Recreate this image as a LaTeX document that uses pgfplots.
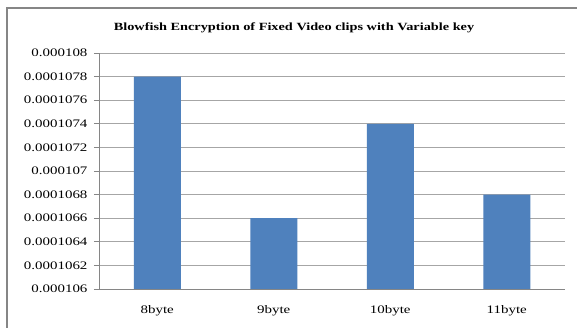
\documentclass[border=0pt]{standalone}
\usepackage{fontspec}
\setmainfont{Liberation Serif}[FakeStretch=1.3]
\usepackage{pgfplots}
\pgfplotsset{compat=1.18}
\definecolor{barblue}{HTML}{4F81BD}
\definecolor{gridgray}{HTML}{A6A6A6}
\definecolor{axgray}{HTML}{868686}
\begin{document}
\begin{tikzpicture}[x=1pt,y=1pt]
\useasboundingbox (0,0) rectangle (577,328);
\fill[white] (0,0) rectangle (577,328);
\draw[axgray, line width=1.2pt] (7,0) -- (7,320) -- (577,320);
\node[font=\bfseries\fontsize{11}{13}\selectfont] at (294,300) {Blowfish Encryption of Fixed Video clips with Variable key};
\begin{axis}[
  at={(99pt,39pt)}, anchor=south west,
  scale only axis, width=466pt, height=236pt,
  xmin=-0.5, xmax=3.5,
  ymin=0.000106, ymax=0.000108,
  xtick={0,1,2,3},
  xticklabels={8byte,9byte,10byte,11byte},
  major x tick style={draw=none},
  extra x ticks={-0.5,0.5,1.5,2.5,3.5},
  extra x tick labels={},
  extra x tick style={major tick length=5pt, tick style={draw=axgray}, grid=none},
  ytick={0.000106,0.0001062,0.0001064,0.0001066,0.0001068,0.000107,0.0001072,0.0001074,0.0001076,0.0001078,0.000108},
  yticklabels={0.000106,0.0001062,0.0001064,0.0001066,0.0001068,0.000107,0.0001072,0.0001074,0.0001076,0.0001078,0.000108},
  scaled y ticks=false,
  ymajorgrids, grid style={gridgray, line width=0.8pt},
  tick align=outside, major tick length=5pt,
  tick style={axgray, line width=0.8pt},
  axis x line*=bottom, axis y line*=left,
  axis line style={axgray, line width=0.8pt, -},
  tick label style={font=\fontsize{11.5}{13}\selectfont},
  yticklabel style={xshift=-3pt},
  xticklabel style={yshift=-8pt},
  clip=false,
]
\addplot[ybar, bar width=47pt, fill=barblue, draw=none] coordinates {
  (0,0.0001078) (1,0.0001066) (2,0.0001074) (3,0.0001068)
};
\end{axis}
\end{tikzpicture}
\end{document}
